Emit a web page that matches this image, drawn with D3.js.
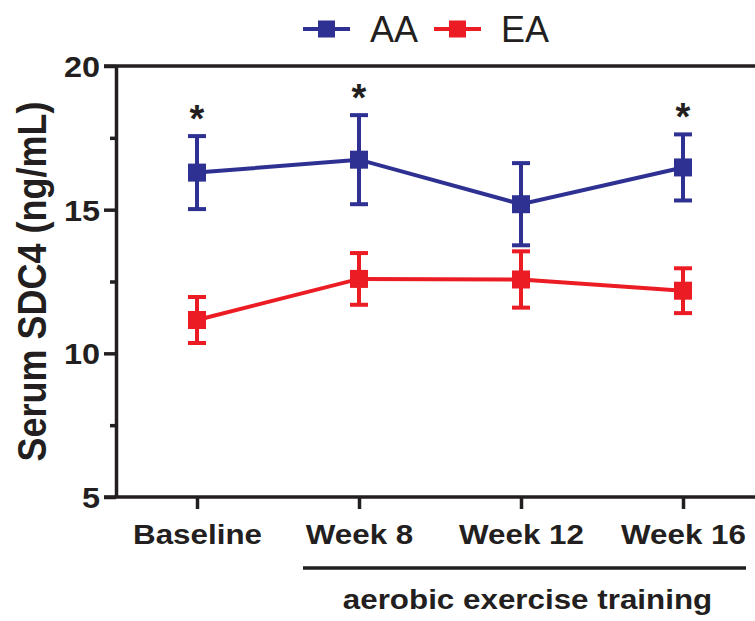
<!DOCTYPE html>
<html lang="en">
<head>
<meta charset="UTF-8">
<title>Serum SDC4</title>
<style>
  body { margin: 0; background: #fff; }
  svg text { font-family: "Liberation Sans", Arial, sans-serif; fill: #231f20; }
  .axis path, .axis line { stroke: #231f20; }
</style>
</head>
<body>
<svg id="chart" width="755" height="621"></svg>
<script src="https://d3js.org/d3.v7.min.js"></script>
<script>
// data
const timepoints = ['Baseline', 'Week 8', 'Week 12', 'Week 16'];
const groups = ['AA', 'EA'];
const aaMean = [16.29, 16.74, 15.19, 16.47];
const aaSem = [1.27, 1.55, 1.43, 1.15];
const eaMean = [11.16, 12.59, 12.57, 12.18];
const eaSem = [0.80, 0.90, 0.98, 0.78];
const significant = [true, true, false, true];
const yMajorTicks = [5, 10, 15, 20];
const yMinorTicks = [7.5, 12.5, 17.5];

const colors = { AA: '#2e3192', EA: '#ec1c24' };
const stretch = 1.12; // text in the figure is a bit wider than normal

const svg = d3.select('#chart');

const x = d3.scalePoint().domain(timepoints).range([197, 683]);
const y = d3.scaleLinear().domain([5, 20]).range([497, 66]);

const series = [
  { name: 'AA', mean: aaMean, sem: aaSem },
  { name: 'EA', mean: eaMean, sem: eaSem }
];

// frame lines at top and bottom
svg.append('line')
  .attr('x1', 104).attr('x2', 755)
  .attr('y1', y(20)).attr('y2', y(20))
  .attr('stroke', '#231f20').attr('stroke-width', 3.5);
svg.append('line')
  .attr('x1', 104).attr('x2', 755)
  .attr('y1', y(5)).attr('y2', y(5))
  .attr('stroke', '#231f20').attr('stroke-width', 3.5);

// y axis
const yAxis = svg.append('g')
  .attr('class', 'axis')
  .attr('transform', 'translate(116,0)')
  .call(d3.axisLeft(y).tickValues(yMajorTicks).tickSize(12).tickSizeOuter(0).tickPadding(0));
yAxis.select('.domain').attr('stroke-width', 3.5);
yAxis.selectAll('.tick line').attr('stroke-width', 3.5);
yAxis.selectAll('.tick text')
  .attr('x', -16 / stretch)
  .attr('dy', '0.36em')
  .attr('transform', `scale(${stretch},1)`)
  .style('font-size', '29px')
  .style('font-weight', 'bold')
  .attr('fill', '#231f20');

const yMinor = svg.append('g')
  .attr('class', 'axis')
  .attr('transform', 'translate(116,0)')
  .call(d3.axisLeft(y).tickValues(yMinorTicks).tickSize(6).tickFormat(''));
yMinor.select('.domain').remove();
yMinor.selectAll('.tick line').attr('stroke-width', 3.5);

// x axis
const xAxis = svg.append('g')
  .attr('class', 'axis')
  .attr('transform', `translate(0,${y(5)})`)
  .call(d3.axisBottom(x).tickSize(12).tickSizeOuter(0));
xAxis.select('.domain').remove();
xAxis.selectAll('.tick line').attr('stroke-width', 3.5);
xAxis.selectAll('.tick text')
  .attr('y', 0)
  .attr('dy', 47)
  .attr('transform', `scale(${stretch},1)`)
  .style('font-size', '28px')
  .style('font-weight', 'bold')
  .attr('fill', '#231f20');

// y axis title
svg.append('text')
  .attr('transform', `translate(46,${y(12.5)}) scale(${stretch},1) rotate(-90)`)
  .attr('text-anchor', 'middle')
  .style('font-size', '36px')
  .style('font-weight', 'bold')
  .text('Serum SDC4 (ng/mL)');

// bracket under training weeks
svg.append('line')
  .attr('x1', x('Week 8') - 56).attr('x2', x('Week 16') + 63)
  .attr('y1', 568).attr('y2', 568)
  .attr('stroke', '#231f20').attr('stroke-width', 3.5);
svg.append('text')
  .attr('transform', `translate(${(x('Week 8') - 56 + x('Week 16') + 63) / 2 + 3},609) scale(${stretch},1)`)
  .attr('text-anchor', 'middle')
  .style('font-size', '28px')
  .style('font-weight', 'bold')
  .text('aerobic exercise training');

// lines, error bars, markers
const line = d3.line()
  .x((d, i) => x(timepoints[i]))
  .y(d => y(d));

series.forEach(s => {
  const g = svg.append('g');
  g.append('path')
    .datum(s.mean)
    .attr('d', line)
    .attr('fill', 'none')
    .attr('stroke', colors[s.name])
    .attr('stroke-width', 4);

  const pts = s.mean.map((m, i) => ({ t: timepoints[i], m: m, e: s.sem[i] }));

  const err = g.selectAll('.err')
    .data(pts)
    .enter().append('g');
  err.append('line')
    .attr('x1', d => x(d.t)).attr('x2', d => x(d.t))
    .attr('y1', d => y(d.m + d.e)).attr('y2', d => y(d.m - d.e))
    .attr('stroke', colors[s.name]).attr('stroke-width', 4);
  err.append('line')
    .attr('x1', d => x(d.t) - 9).attr('x2', d => x(d.t) + 9)
    .attr('y1', d => y(d.m + d.e)).attr('y2', d => y(d.m + d.e))
    .attr('stroke', colors[s.name]).attr('stroke-width', 4);
  err.append('line')
    .attr('x1', d => x(d.t) - 9).attr('x2', d => x(d.t) + 9)
    .attr('y1', d => y(d.m - d.e)).attr('y2', d => y(d.m - d.e))
    .attr('stroke', colors[s.name]).attr('stroke-width', 4);

  g.selectAll('.pt')
    .data(pts)
    .enter().append('rect')
    .attr('x', d => x(d.t) - 9)
    .attr('y', d => y(d.m) - 9)
    .attr('width', 18)
    .attr('height', 18)
    .attr('fill', colors[s.name]);
});

// significance asterisks above AA
svg.selectAll('.star')
  .data(timepoints.filter((t, i) => significant[i]))
  .enter().append('text')
  .attr('x', d => x(d))
  .attr('y', d => y(aaMean[timepoints.indexOf(d)] + aaSem[timepoints.indexOf(d)]) - 4)
  .attr('text-anchor', 'middle')
  .style('font-size', '38px')
  .style('font-weight', 'bold')
  .text('*');

// legend
const legend = svg.append('g');
const legendX = [303, 434];
groups.forEach((name, i) => {
  const lg = legend.append('g').attr('transform', `translate(${legendX[i]},29)`);
  lg.append('line')
    .attr('x1', 0).attr('x2', 47)
    .attr('stroke', colors[name]).attr('stroke-width', 4);
  lg.append('rect')
    .attr('x', 15).attr('y', -8.5)
    .attr('width', 17).attr('height', 17)
    .attr('fill', colors[name]);
  lg.append('text')
    .attr('x', 67).attr('y', 13)
    .style('font-size', '36px')
    .text(name);
});
</script>
</body>
</html>
